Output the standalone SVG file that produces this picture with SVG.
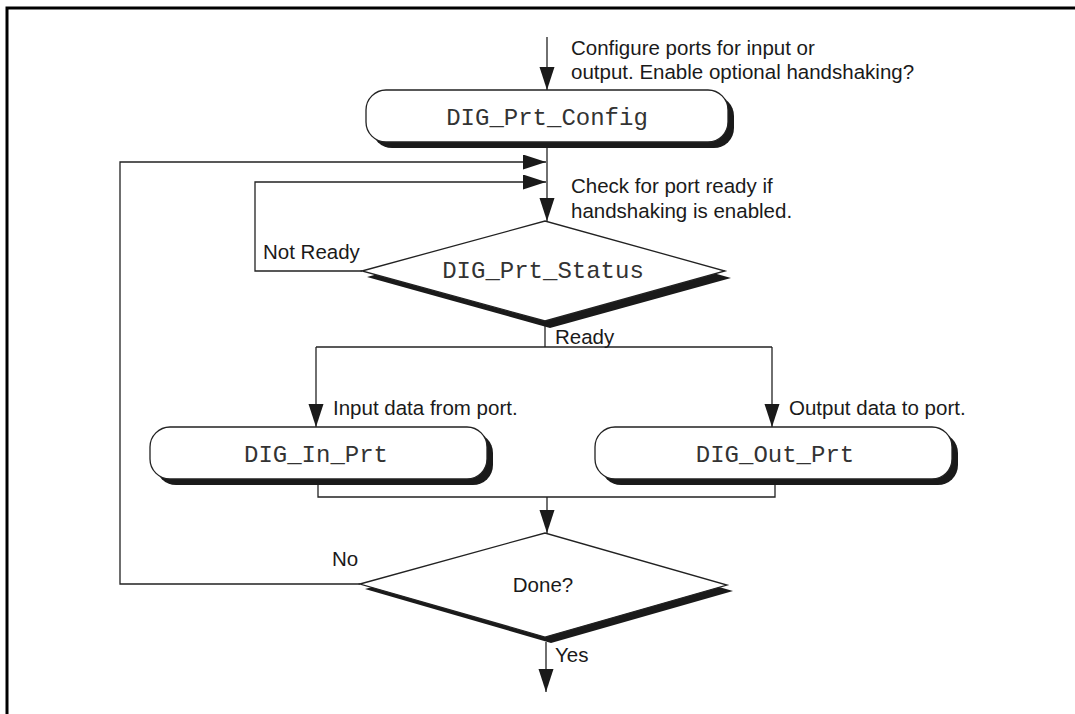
<svg xmlns="http://www.w3.org/2000/svg" width="1075" height="714" viewBox="0 0 1075 714">
<style>
.lbl{font-family:"Liberation Sans",Arial,sans-serif;font-size:20.5px;fill:#1a1a1a}
.code{font-family:"Liberation Mono","Courier New",monospace;font-size:24px;fill:#333;text-anchor:middle}
.ln{fill:none;stroke:#222;stroke-width:1.3}
.box{fill:#fff;stroke:#222;stroke-width:1.3}
.sh{fill:#1a1a1a}
</style>
<defs>
<marker id="ah" markerWidth="24" markerHeight="16" refX="23" refY="7.5" orient="auto" markerUnits="userSpaceOnUse">
<path d="M0,0 L23,7.5 L0,15 Z" fill="#1a1a1a"/>
</marker>
</defs>
<rect width="1075" height="714" fill="#fff"/>
<path d="M7,714 V8 H1075" fill="none" stroke="#000" stroke-width="3"/>

<g id="connectors">
<line class="ln" x1="547" y1="37" x2="547" y2="90" marker-end="url(#ah)"/>
<line class="ln" x1="547" y1="148" x2="547" y2="221" marker-end="url(#ah)"/>
<polyline class="ln" points="360,584 120,584 120,162 546,162" marker-end="url(#ah)"/>
<polyline class="ln" points="362,271 255,271 255,182 546,182" marker-end="url(#ah)"/>
<line class="ln" x1="545" y1="326" x2="545" y2="347"/>
<line class="ln" x1="316" y1="347" x2="772" y2="347"/>
<line class="ln" x1="316" y1="347" x2="316" y2="427" marker-end="url(#ah)"/>
<line class="ln" x1="772" y1="347" x2="772" y2="427" marker-end="url(#ah)"/>
<polyline class="ln" points="318,485 318,497 775,497 775,485"/>
<line class="ln" x1="547" y1="497" x2="547" y2="533" marker-end="url(#ah)"/>
<line class="ln" x1="546" y1="642" x2="546" y2="692" marker-end="url(#ah)"/>
</g>

<g id="config">
<rect class="sh" x="372" y="96" width="362" height="52" rx="20"/>
<rect class="box" x="366" y="90" width="362" height="52" rx="20"/>
<text class="code" x="547" y="125">DIG_Prt_Config</text>
</g>

<g id="status">
<polygon class="sh" points="367,277 550,227 731,278 550,328"/>
<polygon class="box" points="362,271 545,221 725,271 545,321"/>
<text class="code" x="543" y="278">DIG_Prt_Status</text>
</g>

<g id="inprt">
<rect class="sh" x="156" y="433" width="337" height="52" rx="20"/>
<rect class="box" x="150" y="427" width="337" height="52" rx="20"/>
<text class="code" x="316" y="462">DIG_In_Prt</text>
</g>

<g id="outprt">
<rect class="sh" x="601" y="433" width="357" height="52" rx="20"/>
<rect class="box" x="595" y="427" width="357" height="52" rx="20"/>
<text class="code" x="775" y="462">DIG_Out_Prt</text>
</g>

<g id="done">
<polygon class="sh" points="365,589 551,539 733,591 551,643"/>
<polygon class="box" points="360,584 545,533 727,585 545,637"/>
<text class="lbl" x="543" y="592" text-anchor="middle">Done?</text>
</g>

<g id="labels">
<text class="lbl" x="571" y="55">Configure ports for input or</text>
<text class="lbl" x="571" y="79">output. Enable optional handshaking?</text>
<text class="lbl" x="571" y="193">Check for port ready if</text>
<text class="lbl" x="571" y="218">handshaking is enabled.</text>
<text class="lbl" x="263" y="259">Not Ready</text>
<text class="lbl" x="555" y="344">Ready</text>
<text class="lbl" x="333" y="415">Input data from port.</text>
<text class="lbl" x="789" y="415">Output data to port.</text>
<text class="lbl" x="332" y="566">No</text>
<text class="lbl" x="555" y="662">Yes</text>
</g>
</svg>
